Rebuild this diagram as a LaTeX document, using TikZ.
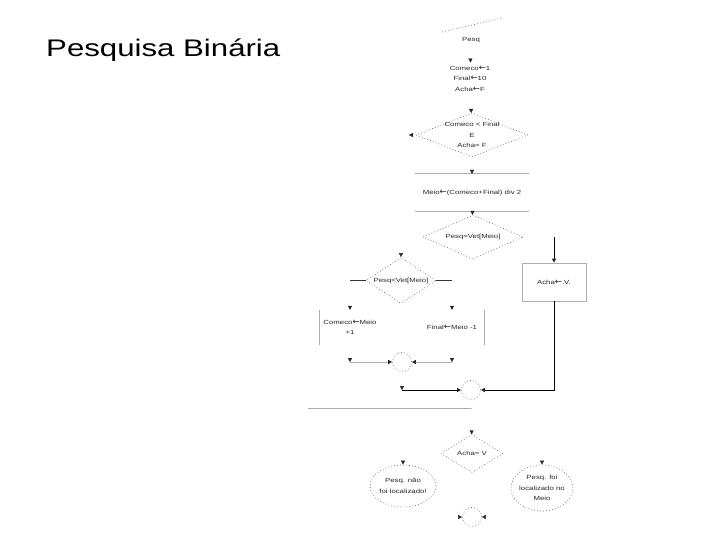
\documentclass[tikz,border=0pt]{standalone}
\usepackage{fontspec}
\setmainfont{Liberation Sans}[FakeStretch=1.3]
\newfontfamily\arrowfont{DejaVu Sans}
\usetikzlibrary{shapes.geometric,arrows.meta}
\newcommand\lar{{\arrowfont\fontsize{8.5}{10.5}\selectfont\char"2190}}
\tikzset{
  txt/.style={font=\fontsize{6}{10.5}\selectfont, text=black!85, align=center, inner sep=1pt},
  dotline/.style={draw=black!60, line width=0.7pt, dash pattern=on 0.7pt off 2.3pt},
  dia/.style={diamond, dotline, inner sep=0pt},
  tip/.style={-{Triangle[length=4pt,width=4pt,color=black!85]}},
  ghost/.style={draw=white, line width=0.4pt, tip},
  lt/.style={draw=black!32, line width=0.7pt},
  ltarrow/.style={lt, tip},
  dk/.style={draw=black!80, line width=0.7pt},
  blk/.style={draw=black, line width=0.9pt, tip},
}
\begin{document}
\begin{tikzpicture}[x=1pt,y=-1pt]
\useasboundingbox (0,0) rectangle (720,540);
% title
\node[anchor=base west, inner sep=0pt, font=\fontsize{24}{28}\selectfont] (title) at (46,57) {Pesquisa Binária};
% top dotted line
\coordinate (t1) at (442,32);
\coordinate (t2) at (502,18);
\draw[dotline] (t1) -- (t2);
% nodes
\node[txt] (pesq) at (471,40) {Pesq};
\node[txt, inner sep=3pt] (init) at (470,78.5) {Comeco\lar1\\Final\lar10\\Acha\lar F};
\node[dia, minimum width=112pt, minimum height=44pt] (d1) at (472,135) {};
\node[txt] (d1t) at (d1) {Comeco < Final\\E\\Acha= F};
\coordinate (d1x) at (409,135);
\node[txt, minimum width=114pt, minimum height=37pt] (calc) at (472,192.5) {Meio\lar(Comeco+Final) div 2};
\draw[lt] (calc.north west) -- (calc.north east);
\draw[lt] (calc.south west) -- (calc.south east);
\node[dia, minimum width=100pt, minimum height=44pt] (d2) at (473,237) {};
\node[txt] (d2t) at (d2) {Pesq=Vet[Meio]};
\node[txt, draw=black!32, line width=0.7pt, minimum width=64pt, minimum height=38pt] (acha) at (554,282) {Acha\lar.V.};
\node[dia, minimum width=70pt, minimum height=46pt] (d3) at (401,280.5) {};
\node[txt] (d3t) at (d3) {Pesq<Vet[Meio]};
\node[txt, minimum width=60pt, minimum height=35pt] (box3) at (350,327.5) {Comeco\lar Meio\\+1};
\draw[lt] (box3.north west) -- (box3.south west);
\node[txt, minimum width=64pt, minimum height=35pt] (box4) at (452,327.5) {Final\lar Meio -1};
\draw[lt] (box4.north east) -- (box4.south east);
\node[circle, dotline, minimum size=19pt, inner sep=0pt] (c1) at (402,362) {};
\node[circle, dotline, minimum size=19pt, inner sep=0pt] (c2) at (471,390) {};
\coordinate (g1) at (308,408);
\coordinate (g2) at (472,408);
\draw[lt] (g1) -- (g2);
\node[dia, minimum width=62pt, minimum height=38pt] (d4) at (472,453.5) {};
\node[txt] (d4t) at (d4) {Acha= V};
\node[ellipse, dotline, minimum width=66pt, minimum height=42pt] (e1) at (403,486) {};
\node[txt] (e1t) at (e1) {Pesq. não\\foi localizado!};
\node[ellipse, dotline, minimum width=62pt, minimum height=46pt] (e2) at (542,488) {};
\node[txt] (e2t) at (e2) {Pesq. foi\\localizado no\\Meio};
\node[circle, dotline, minimum size=19pt, inner sep=0pt] (c3) at (472,517) {};
% connectors
\draw[ghost] (pesq) -- (init);
\draw[ghost] (init) -- (d1);
\draw[ghost] (d1.west) -- (d1x);
\draw[ghost] (d1) -- (calc);
\draw[ghost] (calc) -- (d2);
\draw[blk] (d2.east -| acha.north) -- (acha.north);
\draw[ghost] (d2.west) -| (d3.north);
\draw[dk] (d3.west) -- (d3.west -| box3.north);
\draw[ghost] (d3.west -| box3.north) -- (box3.north);
\draw[dk] (d3.east) -- (d3.east -| box4.north);
\draw[ghost] (d3.east -| box4.north) -- (box4.north);
\draw[ghost] (box3.south) -- (box3.south |- c1);
\draw[ltarrow] (box3.south |- c1) -- (c1.west);
\draw[ghost] (box4.south) -- (box4.south |- c1);
\draw[ltarrow] (box4.south |- c1) -- (c1.east);
\draw[ghost] (c1.south) -- (c1.south |- c2);
\draw[blk] (c1.south |- c2) -- (c2.west);
\draw[blk] (acha.south) |- (c2.east);
\draw[ghost] (c2) -- (d4);
\draw[ghost] (d4.west) -| (e1.north);
\draw[ghost] (d4.east) -| (e2.north);
\draw[ghost] (e1.south) |- (c3.west);
\draw[ghost] (e2.south) |- (c3.east);
\end{tikzpicture}
\end{document}
